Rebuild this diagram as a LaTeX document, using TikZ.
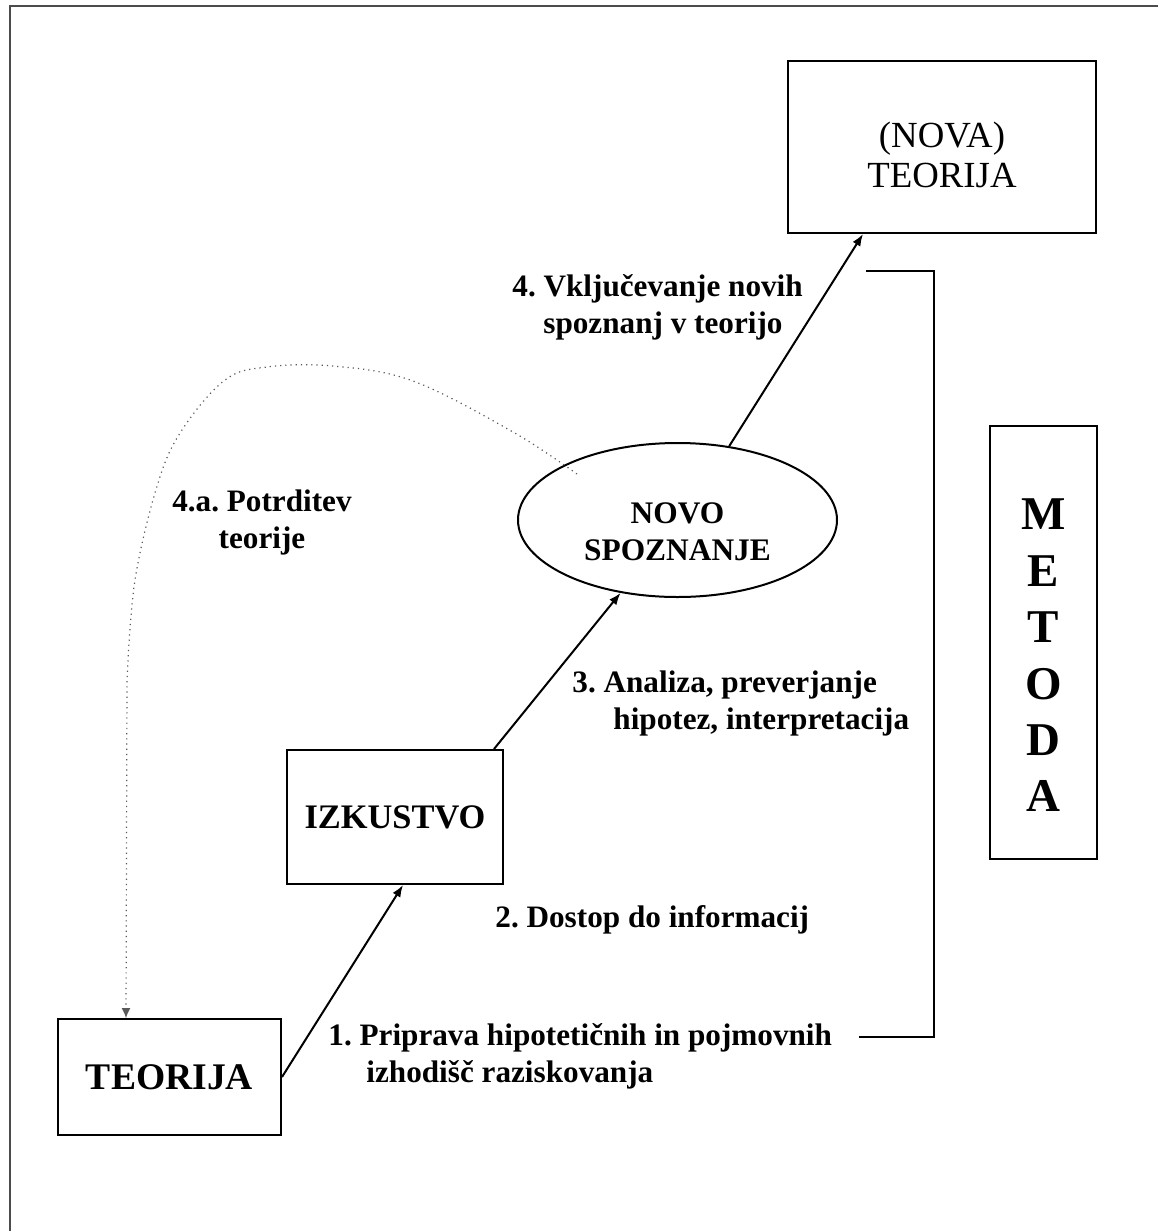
\documentclass[tikz,border=0pt]{standalone}
\usepackage{fontspec}
\setmainfont{Liberation Serif}
\usepackage{tikz}
\usetikzlibrary{arrows, arrows.meta, positioning, shapes.geometric, calc}
\frenchspacing
\tikzset{%
	box/.style={draw, rectangle, line width=1pt, inner sep=0mm, align=center},
	oval/.style={draw, ellipse, line width=1pt, inner sep=0mm, align=center},
	boxtext/.style={inner sep=0mm, align=center},
	lbl/.style={inner sep=0mm, align=left, font=\fontsize{15.6}{18.5}\selectfont\bfseries},
	flow/.style={-{Latex[length=6pt, width=4.5pt]}, line width=1pt},
	feedback/.style={-{Latex[length=5pt, width=4.5pt]}, dotted, line width=0.6pt, gray!70!black},
	bracket/.style={line width=1pt},
	frame/.style={line width=1pt, gray!60!black}
}

\begin{document}
\begin{tikzpicture}[x=0.5pt, y=-0.5pt]
  \useasboundingbox (0,0) rectangle (1158,1231);
  \draw[frame] (10,1231) -- (10,6) -- (1158,6);

  \node[box, minimum width=154pt, minimum height=86pt] (nova) at (942,147) {};
  \node[boxtext, font=\fontsize{18.4}{20}\selectfont] (novatxt) at ([yshift=-4pt]nova.center) {(NOVA)\\TEORIJA};
  \node[box, minimum width=53.5pt, minimum height=216.5pt] (metoda) at (1043.5,642.5) {};
  \node[boxtext, font=\fontsize{23.5}{28.2}\selectfont\bfseries] (metodatxt) at ([yshift=-6.5pt]metoda.center) {M\\E\\T\\O\\D\\A};
  \node[oval, minimum width=159.5pt, minimum height=77pt] (nsp) at (677.5,520) {};
  \node[boxtext, font=\fontsize{15.7}{18.5}\selectfont\bfseries] (nsptxt) at ([yshift=-6pt]nsp.center) {NOVO\\SPOZNANJE};
  \node[box, minimum width=108pt, minimum height=67pt, font=\fontsize{17.2}{20}\selectfont\bfseries] (izkustvo) at (395,817) {IZKUSTVO};
  \node[box, minimum width=111.5pt, minimum height=58pt, font=\fontsize{18.8}{20}\selectfont\bfseries, text depth=0pt] (teorija) at (169.5,1077) {TEORIJA};

  % steps
  \node[lbl, anchor=west] (l1) at (328,1056) {1. Priprava hipotetičnih in pojmovnih\\\hspace*{19pt}izhodišč raziskovanja};
  \node[lbl, anchor=west] (l2) at (495,920) {2. Dostop do informacij};
  \node[lbl, anchor=west] (l3) at (572,703) {3. Analiza, preverjanje\\\hspace*{20.5pt}hipotez, interpretacija};
  \node[lbl, anchor=west] (l4) at (512,307) {4. Vključevanje novih\\\hspace*{15.5pt}spoznanj v teorijo};
  \node[lbl, align=center] (l4a) at (262,522) {4.a. Potrditev\\teorije};

  \draw[flow] (teorija.east) -- ([xshift=4pt]izkustvo.south);
  \draw[flow] ([xshift=-5pt]izkustvo.north east) -- (nsp.232);
  \draw[flow] (nsp.55) -- ([xshift=-39.5pt]nova.south);

  \coordinate (dotstart) at (577,474);
  \draw[feedback] plot[smooth, tension=0.6] coordinates {(dotstart) (513,432) (413,381) (333,366) (267,367) (225,380) (182,430) (158,483) (135,580) (127,680)}
    -- ([xshift=-21.75pt]teorija.north);

  \draw[bracket] (866,271) -- (934,271) -- (934,1037) -- (859,1037);
\end{tikzpicture}
\end{document}
